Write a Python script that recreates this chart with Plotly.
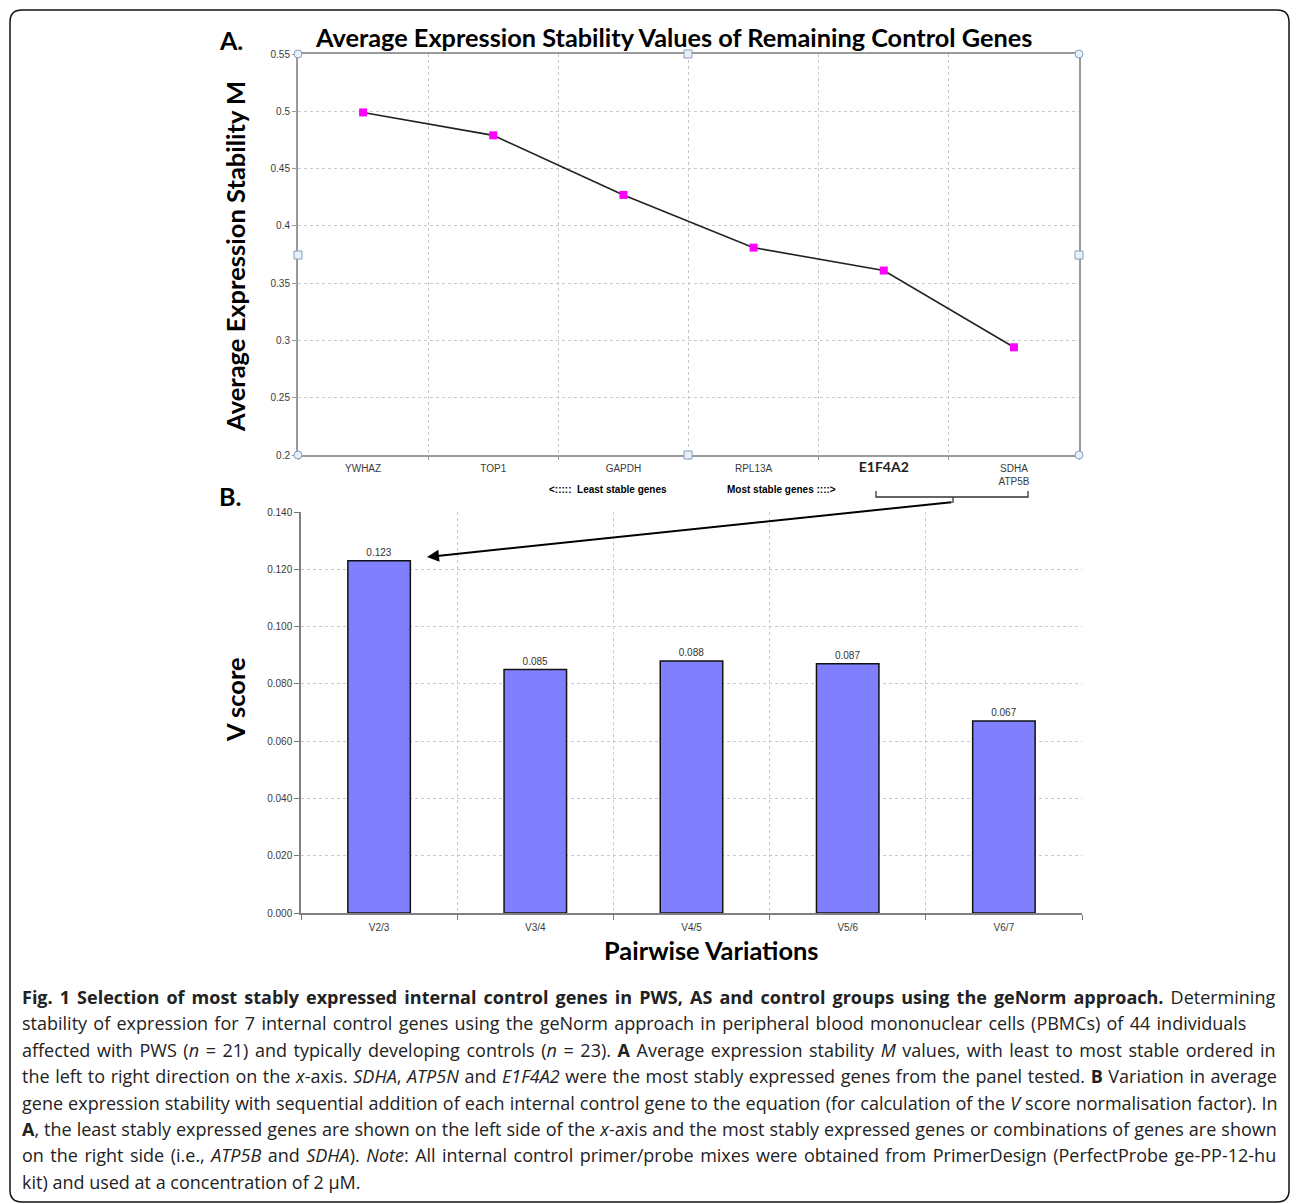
import plotly.graph_objects as go

# ---------------- data ----------------
genes = ["YWHAZ", "TOP1", "GAPDH", "RPL13A", "E1F4A2", "SDHA/ATP5B"]
gene_labels = ["YWHAZ", "TOP1", "GAPDH", "RPL13A",
               "<span style='font-family:Lato;font-size:14px;color:#222'><b>E1F4A2</b></span>",
               "SDHA<br>ATP5B"]
m_values = [0.499, 0.479, 0.427, 0.381, 0.361, 0.294]
m_ticks = [0.2, 0.25, 0.3, 0.35, 0.4, 0.45, 0.5, 0.55]
m_tick_text = ["0.2", "0.25", "0.3", "0.35", "0.4", "0.45", "0.5", "0.55"]

pairs = ["V2/3", "V3/4", "V4/5", "V5/6", "V6/7"]
v_scores = [0.123, 0.085, 0.088, 0.087, 0.067]
v_ticks = [0.0, 0.02, 0.04, 0.06, 0.08, 0.10, 0.12, 0.14]

caption_lines = [
    "<b>Fig. 1 Selection of most stably expressed internal control genes in PWS, AS and control groups using the geNorm approach.</b> Determining",
    "stability of expression for 7 internal control genes using the geNorm approach in peripheral blood mononuclear cells (PBMCs) of 44 individuals",
    "affected with PWS (<i>n</i> = 21) and typically developing controls (<i>n</i> = 23). <b>A</b> Average expression stability <i>M</i> values, with least to most stable ordered in",
    "the left to right direction on the <i>x</i>-axis. <i>SDHA</i>, <i>ATP5N</i> and <i>E1F4A2</i> were the most stably expressed genes from the panel tested. <b>B</b> Variation in average",
    "gene expression stability with sequential addition of each internal control gene to the equation (for calculation of the <i>V</i> score normalisation factor). In",
    "<b>A</b>, the least stably expressed genes are shown on the left side of the <i>x</i>-axis and the most stably expressed genes or combinations of genes are shown",
    "on the right side (i.e., <i>ATP5B</i> and <i>SDHA</i>). <i>Note</i>: All internal control primer/probe mixes were obtained from PrimerDesign (PerfectProbe ge-PP-12-hu",
    "kit) and used at a concentration of 2 μM.",
]
# extra word spacing (px) per caption line to imitate the justified setting
caption_word_spacing = [2.4, 1.6, 1.9, 0.9, 0.4, 0.35, 1.8, 0]

# ---------------- layout helpers ----------------
W, H = 1292, 1204
def px(x):
    return x / W
def py(y):
    return 1 - y / H

AX = "#9A9A9A"
GRID = "#C8C8C8"
TICKFONT = dict(family="Liberation Sans, Arial", size=10, color="#3A3A3A")
HEAD = "Lato, Open Sans, sans-serif"

fig = go.Figure()

fig.add_trace(go.Scatter(
    x=genes, y=m_values, mode="lines+markers",
    line=dict(color="#222222", width=1.6),
    marker=dict(symbol="square", size=8, color="#FF00FF"),
    xaxis="x", yaxis="y", showlegend=False, cliponaxis=False))

fig.add_trace(go.Bar(
    x=pairs, y=v_scores, width=0.4,
    marker=dict(color="#8080FF", line=dict(color="#111111", width=1.5)),
    text=[f"{v:.3f}" for v in v_scores], textposition="outside",
    textfont=dict(family="Liberation Sans, Arial", size=10, color="#333333"),
    xaxis="x2", yaxis="y2", showlegend=False, cliponaxis=False))

fig.update_layout(
    width=W, height=H, margin=dict(l=0, r=0, t=0, b=0, pad=0, autoexpand=False),
    paper_bgcolor="white", plot_bgcolor="white",
    xaxis=dict(domain=[px(298), px(1079)], anchor="y", type="category",
               tickmode="array", tickvals=genes, ticktext=gene_labels,
               tickson="boundaries", ticks="outside", ticklen=3, tickcolor=AX,
               showline=True, linecolor=AX, linewidth=2, mirror=True,
               showgrid=True, gridcolor=GRID, griddash="dot", gridwidth=1,
               tickfont=TICKFONT, range=[-0.5, 5.5], automargin=False,
               ticklabelstandoff=3),
    yaxis=dict(domain=[py(455), py(54)], anchor="x", range=[0.2, 0.55],
               tickmode="array", tickvals=m_ticks, ticktext=m_tick_text,
               ticks="outside", ticklen=4, tickcolor=AX,
               showline=True, linecolor=AX, linewidth=2, mirror=True,
               showgrid=True, gridcolor=GRID, griddash="dot", gridwidth=1,
               tickfont=TICKFONT, zeroline=False, automargin=False),
    xaxis2=dict(domain=[px(301), px(1082)], anchor="y2", type="category",
                tickson="boundaries", ticks="outside", ticklen=5, tickcolor="#777",
                showline=True, linecolor="#808080", linewidth=1.5,
                showgrid=True, gridcolor=GRID, griddash="dot", gridwidth=1,
                tickfont=TICKFONT, range=[-0.5, 4.5], ticklabelstandoff=4, automargin=False),
    yaxis2=dict(domain=[py(913), py(512)], anchor="x2", range=[0, 0.14],
                tickmode="array", tickvals=v_ticks, tickformat=".3f",
                ticks="outside", ticklen=5, tickcolor="#777",
                showline=True, linecolor="#808080", linewidth=1.5,
                showgrid=True, gridcolor=GRID, griddash="dot", gridwidth=1,
                tickfont=TICKFONT, zeroline=False, automargin=False),
)

ann = []
def text(x, y, s, size, bold=True, family=HEAD, angle=0, xanchor="center", color="#000"):
    ann.append(dict(xref="paper", yref="paper", x=px(x), y=py(y),
                    text=f"<b>{s}</b>" if bold else s, showarrow=False,
                    font=dict(family=family, size=size, color=color),
                    textangle=angle, xanchor=xanchor, yanchor="middle"))

text(231, 40, "A.", 25)
text(230, 496, "B.", 25)
text(673, 37, "Average Expression Stability Values of Remaining Control Genes", 25.3)
text(235, 257, "Average Expression Stability M", 25.5, angle=-90)
text(235, 700, "V score", 25.5, angle=-90)
text(711, 950, "Pairwise Variations", 25.4)
text(608, 489, "<::::: &nbsp;Least stable genes", 10, family="Liberation Sans, Arial")
text(781, 489, "Most stable genes ::::>", 10, family="Liberation Sans, Arial")

# arrow from bracket to first bar
ann.append(dict(xref="paper", yref="paper", x=px(427), y=py(557),
                ax=953 - 427, ay=502 - 557, axref="pixel", ayref="pixel",
                showarrow=True, arrowhead=2, arrowsize=1.2, arrowwidth=2,
                arrowcolor="#000", text=""))

# caption
for i, line in enumerate(caption_lines):
    ws = caption_word_spacing[i]
    ann.append(dict(xref="paper", yref="paper", x=px(20), y=py(997 + i * 26.4),
                    text=f"<span style='word-spacing:{ws}px'>{line}</span>",
                    showarrow=False, xanchor="left", yanchor="middle",
                    font=dict(family="Open Sans", size=18, color="#222")))

fig.update_layout(annotations=ann)

shapes = []
# bracket under E1F4A2 / SDHA
shapes.append(dict(type="path", xref="paper", yref="paper",
                   path=f"M {px(876)} {py(491)} L {px(876)} {py(497)} L {px(1028)} {py(497)} L {px(1028)} {py(491)} "
                        f"M {px(953)} {py(497)} L {px(953)} {py(503)}",
                   line=dict(color="#333", width=1.3)))
# selection handles around panel A
for (hx, hy, kind) in [(298, 54, "circle"), (1079, 54, "circle"), (298, 455, "circle"), (1079, 455, "circle"),
                       (688, 54, "rect"), (688, 455, "rect"), (298, 255, "rect"), (1079, 255, "rect")]:
    r = 4
    shapes.append(dict(type=kind, xref="paper", yref="paper",
                       x0=px(hx - r), x1=px(hx + r), y0=py(hy + r), y1=py(hy - r),
                       fillcolor="#E6F0FA", line=dict(color="#8AA0B8", width=1)))
# outer rounded border
x0, x1, y0, y1, rr = 10, 1289, 10, 1202, 12
shapes.append(dict(type="path", xref="paper", yref="paper",
                   path=(f"M {px(x0+rr)} {py(y0)} L {px(x1-rr)} {py(y0)} Q {px(x1)} {py(y0)} {px(x1)} {py(y0+rr)} "
                         f"L {px(x1)} {py(y1-rr)} Q {px(x1)} {py(y1)} {px(x1-rr)} {py(y1)} "
                         f"L {px(x0+rr)} {py(y1)} Q {px(x0)} {py(y1)} {px(x0)} {py(y1-rr)} "
                         f"L {px(x0)} {py(y0+rr)} Q {px(x0)} {py(y0)} {px(x0+rr)} {py(y0)} Z"),
                   line=dict(color="#111", width=1.5)))
fig.update_layout(shapes=shapes)

fig.write_html("out.html", config={"displayModeBar": False},
               post_script="document.body.style.margin='0';document.body.style.overflow='hidden';")
